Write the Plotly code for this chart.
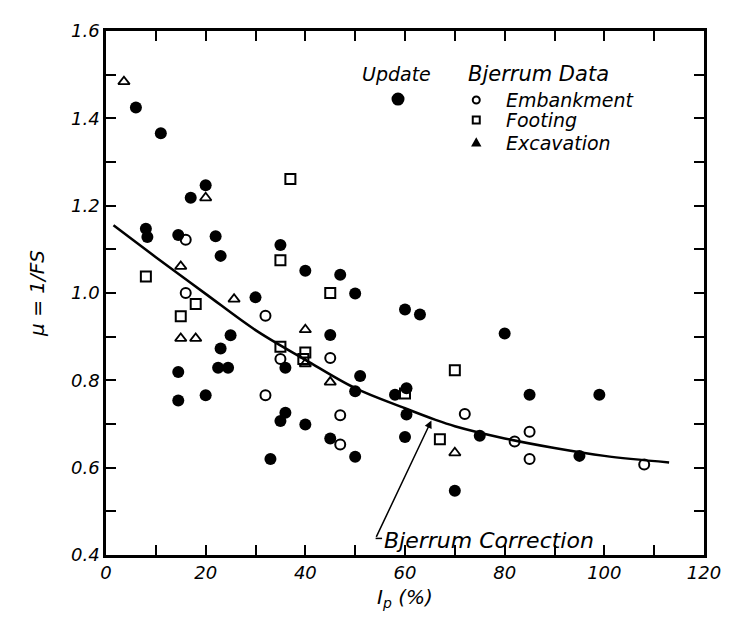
import plotly.graph_objects as go

# ---- data ----
update_ip = [6, 11, 17, 20, 8, 8.3, 14.5, 22, 23, 35, 40, 47, 30, 50, 60, 63, 25, 45, 23, 36,
             14.5, 22.5, 24.5, 51, 50, 14.5, 20, 58, 60.3, 35, 36, 40, 45, 33, 50, 60.3, 60, 80, 85, 99,
             75, 95, 70]
update_mu = [1.425, 1.366, 1.218, 1.247, 1.147, 1.128, 1.133, 1.13, 1.085, 1.11,
             1.051, 1.042, 0.99, 0.999, 0.962, 0.951, 0.903, 0.904, 0.873, 0.829,
             0.819, 0.829, 0.829, 0.81, 0.775, 0.754, 0.766, 0.767, 0.782, 0.707,
             0.726, 0.699, 0.667, 0.62, 0.625, 0.722, 0.67, 0.907, 0.767, 0.767,
             0.673, 0.627, 0.547]

emb_ip = [16, 16, 32, 35, 45, 32, 47, 47, 72, 82, 85, 85, 108]
emb_mu = [1.122, 1.0, 0.948, 0.849, 0.851, 0.766, 0.72, 0.653, 0.723, 0.66, 0.682, 0.62, 0.607]

foot_ip = [37, 35, 8, 18, 15, 45, 35, 40, 39.6, 60, 70, 67]
foot_mu = [1.261, 1.075, 1.038, 0.975, 0.947, 1.0, 0.877, 0.864, 0.849, 0.77, 0.823, 0.665]

exc_ip = [3.6, 20, 15, 25.7, 15, 18, 40, 40, 45, 70]
exc_mu = [1.484, 1.218, 1.061, 0.986, 0.896, 0.896, 0.916, 0.838, 0.796, 0.634]

curve_ip = [1.5, 10, 20, 30, 40, 50, 60, 66, 70, 80, 90, 100, 113]
curve_mu = [1.155, 1.082, 0.998, 0.915, 0.847, 0.782, 0.736, 0.71, 0.695, 0.667, 0.645, 0.627, 0.612]

x_tickvals = list(range(0, 121, 10))
x_ticktext = ["0", "", "20", "", "40", "", "60", "", "80", "", "100", "", "120"]
y_tickvals = [0.4, 0.5, 0.6, 0.7, 0.8, 0.9, 1.0, 1.1, 1.2, 1.3, 1.4, 1.5, 1.6]
y_ticktext = ["0.4", "", "0.6", "", "0.8", "", "1.0", "", "1.2", "", "1.4", "", "1.6"]

FONT = "DejaVu Sans"
ital = dict(family=FONT, size=19, color="black", style="italic")
tickf = dict(family=FONT, size=18, color="black", style="italic")

fig = go.Figure()

fig.add_trace(go.Scatter(x=curve_ip, y=curve_mu, mode="lines",
                         line=dict(color="black", width=2.5, shape="spline"),
                         hoverinfo="skip"))
fig.add_trace(go.Scatter(x=update_ip, y=update_mu, mode="markers",
                         marker=dict(symbol="circle", size=12, color="black")))
fig.add_trace(go.Scatter(x=emb_ip, y=emb_mu, mode="markers",
                         marker=dict(symbol="circle-open", size=10, color="black",
                                     line=dict(width=2, color="black"))))
fig.add_trace(go.Scatter(x=foot_ip, y=foot_mu, mode="markers",
                         marker=dict(symbol="square-open", size=10, color="black",
                                     line=dict(width=2, color="black"))))
fig.add_trace(go.Scatter(x=exc_ip, y=exc_mu, mode="markers",
                         marker=dict(symbol="triangle-up-open", size=10, color="black",
                                     line=dict(width=1.8, color="black"))))


def pix_shape(kind, xa, ya, r, fill):
    base = dict(xref="x", yref="y", xsizemode="pixel", ysizemode="pixel",
                xanchor=xa, yanchor=ya, line=dict(color="black", width=2),
                fillcolor="black" if fill else "rgba(0,0,0,0)")
    if kind == "tri":
        base.update(type="path", path=f"M {-r},{-r*0.8} L {r},{-r*0.8} L 0,{r} Z")
    else:
        base.update(type=kind, x0=-r, x1=r, y0=-r, y1=r)
    return base


shapes = [
    pix_shape("circle", 58.6, 1.444, 5.5, True),
    pix_shape("circle", 74.3, 1.442, 3.5, False),
    pix_shape("rect", 74.3, 1.396, 3.5, False),
    pix_shape("tri", 74.3, 1.344, 3.5, True),
    dict(type="line", xref="x", yref="y", x0=54.1, y0=0.438, x1=55.4, y1=0.438,
         line=dict(color="black", width=1.5)),
]

annotations = [
    dict(x=58.3, y=1.502, text="Update", showarrow=False, xanchor="center", yanchor="middle",
         font=ital),
    dict(x=72.3, y=1.502, text="Bjerrum Data", showarrow=False, xanchor="left", yanchor="middle",
         font=dict(ital, size=21)),
    dict(x=79.8, y=1.442, text="Embankment", showarrow=False, xanchor="left", yanchor="middle",
         font=ital),
    dict(x=79.8, y=1.396, text="Footing", showarrow=False, xanchor="left", yanchor="middle",
         font=ital),
    dict(x=79.8, y=1.344, text="Excavation", showarrow=False, xanchor="left", yanchor="middle",
         font=ital),
    dict(x=65.3, y=0.708, ax=54.1, ay=0.438, axref="x", ayref="y", xref="x", yref="y",
         text="", showarrow=True, arrowhead=2, arrowsize=1, arrowwidth=1.5, arrowcolor="black"),
    dict(x=55.4, y=0.433, text="Bjerrum Correction", showarrow=False, xanchor="left",
         yanchor="middle", font=dict(ital, size=22)),
]

# the page body adds an 8px margin, so the figure is laid out 8px smaller
fig.update_layout(
    width=725, height=623,
    margin=dict(l=98, r=22, t=12, b=76),
    paper_bgcolor="white", plot_bgcolor="white",
    showlegend=False,
    annotations=annotations,
    shapes=shapes,
    font=dict(family=FONT, color="black"),
)

fig.update_xaxes(range=[0, 120], tickvals=x_tickvals, ticktext=x_ticktext,
                 ticks="inside", ticklen=10, tickwidth=2, tickcolor="black",
                 showline=True, linewidth=2.5, linecolor="black", mirror="ticks",
                 showgrid=False, zeroline=False, tickfont=tickf,
                 title=dict(text="I<sub>p</sub> (%)", font=dict(ital, size=20), standoff=8))
fig.update_yaxes(range=[0.4, 1.6], tickvals=y_tickvals, ticktext=y_ticktext,
                 ticks="inside", ticklen=10, tickwidth=2, tickcolor="black",
                 showline=True, linewidth=2.5, linecolor="black", mirror="ticks",
                 showgrid=False, zeroline=False, tickfont=tickf,
                 title=dict(text="μ = 1/FS", font=dict(ital, size=20), standoff=22))

fig.write_html("out.html")
